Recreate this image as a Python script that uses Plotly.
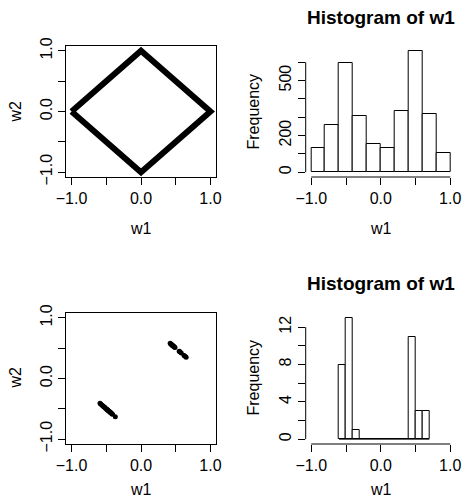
import plotly.graph_objects as go

# ---------------- data ----------------
# top-left: dense points on the diamond |w1|+|w2| = 1 (drawn as its outline)
DIAMOND_W1 = [-1.0, 0.0, 1.0, 0.0, -1.0]
DIAMOND_W2 = [0.0, 1.0, 0.0, -1.0, 0.0]

# top-right: histogram of w1 (all points)
TOP_BREAKS = [-1.0, -0.8, -0.6, -0.4, -0.2, 0.0, 0.2, 0.4, 0.6, 0.8, 1.0]
TOP_COUNTS = [131, 258, 598, 309, 153, 134, 334, 662, 318, 104]

# bottom-left: selected points
SEL_W1 = [-0.59, -0.58, -0.565, -0.55, -0.54, -0.53, -0.52, -0.51,
          -0.495, -0.49, -0.485, -0.48, -0.47, -0.465, -0.46, -0.45, -0.44,
          -0.435, -0.43, -0.42, -0.41, -0.37,
          0.42, 0.43, 0.435, 0.44, 0.45, 0.455, 0.46, 0.47, 0.475, 0.48, 0.49,
          0.55, 0.56, 0.58, 0.62, 0.635, 0.65]
SEL_W2 = [-0.41, -0.42, -0.435, -0.45, -0.46, -0.47, -0.48, -0.49,
          -0.505, -0.51, -0.515, -0.52, -0.53, -0.535, -0.54, -0.55, -0.56,
          -0.565, -0.57, -0.58, -0.59, -0.63,
          0.58, 0.57, 0.565, 0.56, 0.55, 0.545, 0.54, 0.53, 0.525, 0.52, 0.51,
          0.45, 0.44, 0.42, 0.38, 0.365, 0.35]

# bottom-right: histogram of selected w1
BOT_BREAKS = [-0.6, -0.5, -0.4, -0.3, -0.2, -0.1, 0.0, 0.1, 0.2, 0.3, 0.4, 0.5, 0.6, 0.7]
BOT_COUNTS = [8, 13, 1, 0, 0, 0, 0, 0, 0, 0, 11, 3, 3]

W_TICKS = [-1.0, -0.5, 0.0, 0.5, 1.0]
W_TICKTEXT = ["\u22121.0", "", "0.0", "", "1.0"]
TOP_YTICKS = [0, 100, 200, 300, 400, 500, 600]
TOP_YTICKTEXT = ["0", "", "200", "", "", "500", ""]
BOT_YTICKS = [0, 2, 4, 6, 8, 10, 12]
BOT_YTICKTEXT = ["0", "", "4", "", "8", "", "12"]

TITLE = "Histogram of w1"

# ---------------- layout helpers ----------------
W, H = 465, 500
FONT = "Liberation Sans, Arial, Helvetica, sans-serif"


def px_x(p):
    return p / W


def px_y(p):
    return 1 - p / H


LEFT_X = [px_x(66), px_x(216)]
RIGHT_X = [px_x(305.7), px_x(455.8)]
TOP_Y = [px_y(177), px_y(46)]
BOT_Y = [px_y(444), px_y(313)]


def mids(breaks):
    return [(a + b) / 2 for a, b in zip(breaks[:-1], breaks[1:])]


def widths(breaks):
    return [b - a for a, b in zip(breaks[:-1], breaks[1:])]


def rng(lo, hi):
    d = (hi - lo) * 0.04
    return [lo - d, hi + d]


fig = go.Figure()

fig.add_trace(go.Scatter(x=DIAMOND_W1, y=DIAMOND_W2, mode="lines",
                         line=dict(color="black", width=6),
                         xaxis="x", yaxis="y", showlegend=False,
                         hoverinfo="skip"))
fig.add_trace(go.Bar(x=mids(TOP_BREAKS), y=TOP_COUNTS, width=widths(TOP_BREAKS),
                     marker=dict(color="white", line=dict(color="black", width=1)),
                     xaxis="x2", yaxis="y2", showlegend=False))
fig.add_trace(go.Scatter(x=SEL_W1, y=SEL_W2, mode="markers",
                         marker=dict(color="black", size=5),
                         xaxis="x3", yaxis="y3", showlegend=False))
fig.add_trace(go.Bar(x=mids(BOT_BREAKS), y=BOT_COUNTS, width=widths(BOT_BREAKS),
                     marker=dict(color="white", line=dict(color="black", width=1)),
                     xaxis="x4", yaxis="y4", showlegend=False))

tickfont = dict(family=FONT, size=16, color="black")

common_ax = dict(ticks="outside", ticklen=7, tickwidth=1, tickcolor="black",
                 showgrid=False, zeroline=False, tickfont=tickfont,
                 fixedrange=True, automargin=False)

box_ax = dict(showline=True, linecolor="black", linewidth=1, mirror=True)

layout = dict(
    width=W, height=H, autosize=False,
    margin=dict(l=0, r=0, t=0, b=0, pad=0, autoexpand=False),
    paper_bgcolor="white", plot_bgcolor="white",
    bargap=0, showlegend=False,
    font=dict(family=FONT, size=16, color="black"),
    xaxis=dict(domain=LEFT_X, anchor="y", range=rng(-1, 1), tickvals=W_TICKS,
               ticktext=W_TICKTEXT, **common_ax, **box_ax),
    yaxis=dict(domain=TOP_Y, anchor="x", range=rng(-1, 1), tickvals=W_TICKS,
               ticktext=W_TICKTEXT, tickangle=-90, **common_ax, **box_ax),
    xaxis2=dict(domain=RIGHT_X, anchor="y2", range=rng(-1, 1), tickvals=W_TICKS,
                ticktext=W_TICKTEXT, showline=False, **common_ax),
    yaxis2=dict(domain=TOP_Y, anchor="x2", range=rng(0, max(TOP_COUNTS)),
                tickvals=TOP_YTICKS, ticktext=TOP_YTICKTEXT, tickangle=-90,
                showline=False, **common_ax),
    xaxis3=dict(domain=LEFT_X, anchor="y3", range=rng(-1, 1), tickvals=W_TICKS,
                ticktext=W_TICKTEXT, **common_ax, **box_ax),
    yaxis3=dict(domain=BOT_Y, anchor="x3", range=rng(-1, 1), tickvals=W_TICKS,
                ticktext=W_TICKTEXT, tickangle=-90, **common_ax, **box_ax),
    xaxis4=dict(domain=RIGHT_X, anchor="y4", range=rng(-1, 1), tickvals=W_TICKS,
                ticktext=W_TICKTEXT, showline=False, **common_ax),
    yaxis4=dict(domain=BOT_Y, anchor="x4", range=rng(0, max(BOT_COUNTS)),
                tickvals=BOT_YTICKS, ticktext=BOT_YTICKTEXT, tickangle=-90,
                showline=False, **common_ax),
)
fig.update_layout(**layout)

# R-style axis lines spanning only from first to last tick (histograms)
shapes = []
for xa, ya, yt in (("x2", "y2", TOP_YTICKS), ("x4", "y4", BOT_YTICKS)):
    shapes.append(dict(type="line", xref=xa, yref=ya + " domain",
                       x0=W_TICKS[0], x1=W_TICKS[-1], y0=0, y1=0,
                       line=dict(color="black", width=1)))
    shapes.append(dict(type="line", xref=xa + " domain", yref=ya,
                       x0=0, x1=0, y0=yt[0], y1=yt[-1],
                       line=dict(color="black", width=1)))
# baseline of the lower histogram (zero-count bins drawn as flat boxes)
shapes.append(dict(type="line", xref="x4", yref="y4",
                   x0=BOT_BREAKS[0], x1=BOT_BREAKS[-1], y0=0, y1=0,
                   line=dict(color="black", width=1)))
fig.update_layout(shapes=shapes)

ann = []


def label(text, x, y, angle=0, size=16, bold=False):
    ann.append(dict(text=f"<b>{text}</b>" if bold else text,
                    x=px_x(x), y=px_y(y), xref="paper", yref="paper",
                    showarrow=False, textangle=angle, xanchor="center",
                    yanchor="middle",
                    font=dict(family=FONT, size=size, color="black")))


for dy, wy in ((0, 229), (266, 489)):
    label("w1", 141, wy)
    label("w1", 380.7, wy)
    label("w2", 15, 111.5 + dy, angle=-90)
    label("Frequency", 253, 111.5 + dy, angle=-90)
    label(TITLE, 380.7, 17 + dy, size=19, bold=True)
fig.update_layout(annotations=ann)

fig.write_html("out.html", config={"responsive": False, "displayModeBar": False},
               post_script="document.body.style.margin='0';")
